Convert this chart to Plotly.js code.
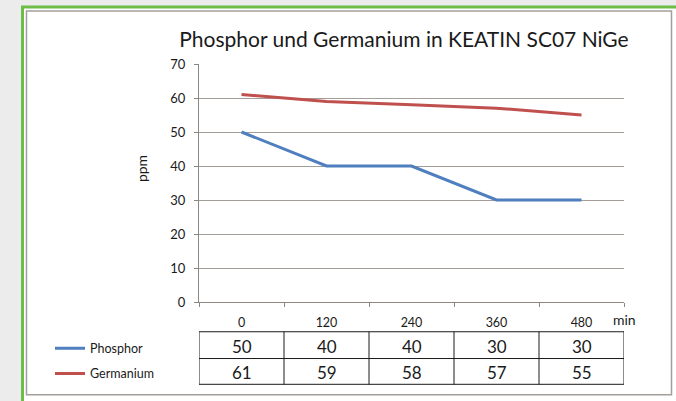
<!DOCTYPE html>
<html>
<head>
<meta charset="utf-8">
<script src="https://cdn.plot.ly/plotly-3.0.1.min.js"></script>
<style>
html,body{margin:0;padding:0;background:#ececec;}
#chart{width:676px;height:401px;}
</style>
</head>
<body>
<div id="chart"></div>
<script>
const categories = ['0', '120', '240', '360', '480'];
const phosphor = [50, 40, 40, 30, 30];
const germanium = [61, 59, 58, 57, 55];
const seriesNames = ['Phosphor', 'Germanium'];
const yTicks = [0, 10, 20, 30, 40, 50, 60, 70];

const W = 676, H = 401;
const L = 199, R = 624, T = 64, B = 304;
const pw = R - L, ph = B - T;
const px = x => (x - L) / pw;
const py = y => (B - y) / ph;

const traces = [
  {x: categories, y: phosphor, name: seriesNames[0], type: 'scatter', mode: 'lines',
   line: {color: '#4f7fbe', width: 3}, legendgroup: 'a'},
  {x: categories, y: germanium, name: seriesNames[1], type: 'scatter', mode: 'lines',
   line: {color: '#c0504d', width: 3}, legendgroup: 'b'}
];

const shapes = [];
const annotations = [];

// frame: green outer border and gray inner border
shapes.push({type: 'rect', xref: 'paper', yref: 'paper', layer: 'below',
  x0: px(22.5), x1: px(700), y0: py(6.5), y1: py(420),
  line: {color: '#6bbd45', width: 3}, fillcolor: '#ffffff'});
shapes.push({type: 'rect', xref: 'paper', yref: 'paper', layer: 'below',
  x0: px(26.5), x1: px(671.5), y0: py(10.5), y1: py(397.5),
  line: {color: '#a39e9a', width: 1.5}, fillcolor: '#ffffff'});

// data table below the axis
const rowTop = [334, 361], rowBot = [361, 387];
const tableRows = [phosphor, germanium];
for (let r = 0; r <= 2; r++) {
  const yy = r === 0 ? rowTop[0] : rowBot[r - 1];
  shapes.push({type: 'line', xref: 'x', yref: 'paper', x0: -0.5, x1: categories.length - 0.5,
    y0: py(yy), y1: py(yy), line: {color: '#1a1a1a', width: 1}});
}
for (let c = 0; c <= categories.length; c++) {
  shapes.push({type: 'line', xref: 'x', yref: 'paper', x0: c - 0.5, x1: c - 0.5,
    y0: py(rowTop[0]), y1: py(rowBot[1]), line: {color: '#1a1a1a', width: 1}});
}
tableRows.forEach((vals, r) => {
  vals.forEach((v, c) => {
    annotations.push({xref: 'x', yref: 'paper', x: c, y: py((rowTop[r] + rowBot[r]) / 2 + 1),
      text: String(v), showarrow: false, xanchor: 'center', yanchor: 'middle',
      font: {family: 'Lato, sans-serif', size: 17, color: '#1a1a1a'}});
  });
});

// axis labels
annotations.push({xref: 'paper', yref: 'paper', x: px(624), y: py(322), text: 'min',
  showarrow: false, xanchor: 'center', yanchor: 'middle',
  font: {family: 'Lato, sans-serif', size: 14, color: '#1a1a1a'}});
annotations.push({xref: 'paper', yref: 'paper', x: px(141), y: py(170), text: 'ppm',
  textangle: -90, showarrow: false, xanchor: 'center', yanchor: 'middle',
  font: {family: 'Lato, sans-serif', size: 14, color: '#1a1a1a'}});

const layout = {
  width: W, height: H,
  margin: {l: L, r: W - R, t: T, b: H - B, pad: 0},
  paper_bgcolor: '#ececec',
  plot_bgcolor: '#ffffff',
  title: {text: 'Phosphor und Germanium in KEATIN SC07 NiGe', x: 404 / W, xanchor: 'center',
    y: 1 - 40 / H, yanchor: 'middle',
    font: {family: 'Lato, sans-serif', size: 21, color: '#1a1a1a'}},
  showlegend: true,
  legend: {x: px(50), xanchor: 'left', y: py(336), yanchor: 'top',
    bgcolor: 'rgba(0,0,0,0)', tracegroupgap: 6, itemwidth: 30,
    font: {family: 'Lato, sans-serif', size: 12.5, color: '#1a1a1a'}},
  xaxis: {type: 'category', range: [-0.5, categories.length - 0.5],
    tickson: 'boundaries', ticks: 'outside', ticklen: 4, tickcolor: '#8c8782',
    showline: true, linecolor: '#8c8782', linewidth: 1, showgrid: false,
    ticklabelstandoff: 9,
    tickfont: {family: 'Lato, sans-serif', size: 12.5, color: '#1a1a1a'},
    fixedrange: true},
  yaxis: {range: [0, 70], tickvals: yTicks, ticks: 'outside', ticklen: 4,
    tickcolor: '#8c8782', showline: true, linecolor: '#8c8782', linewidth: 1,
    showgrid: true, gridcolor: '#a39e9a', gridwidth: 1, zeroline: false,
    ticklabelstandoff: 6,
    tickfont: {family: 'Lato, sans-serif', size: 13, color: '#1a1a1a'},
    fixedrange: true},
  shapes: shapes,
  annotations: annotations
};

Plotly.newPlot('chart', traces, layout, {displayModeBar: false, staticPlot: true});
</script>
</body>
</html>
